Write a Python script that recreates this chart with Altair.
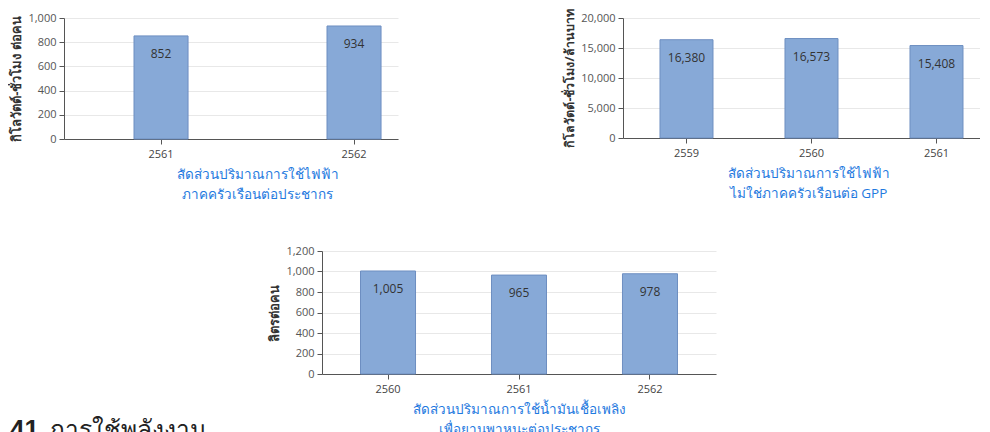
import altair as alt
import pandas as pd

# ---- data ----
years_elec_home = ["2561", "2562"]
values_elec_home = [852, 934]
years_elec_gpp = ["2559", "2560", "2561"]
values_elec_gpp = [16380, 16573, 15408]
years_fuel = ["2560", "2561", "2562"]
values_fuel = [1005, 965, 978]

ytitle_elec_home = "กิโลวัตต์-ชั่วโมง ต่อคน"
ytitle_elec_gpp = "กิโลวัตต์-ชั่วโมง/ล้านบาท"
ytitle_fuel = "ลิตรต่อคน"
xtitle_elec_home = ["สัดส่วนปริมาณการใช้ไฟฟ้า", "ภาคครัวเรือนต่อประชากร"]
xtitle_elec_gpp = ["สัดส่วนปริมาณการใช้ไฟฟ้า", "ไม่ใช่ภาคครัวเรือนต่อ GPP"]
xtitle_fuel = ["สัดส่วนปริมาณการใช้น้ำมันเชื้อเพลิง", "เพื่อยานพาหนะต่อประชากร"]
ticks_elec_home = [0, 200, 400, 600, 800, 1000]
ticks_elec_gpp = [0, 5000, 10000, 15000, 20000]
ticks_fuel = [0, 200, 400, 600, 800, 1000, 1200]
heading_num = ["41"]
heading_text = ["การใช้พลังงาน"]

FONT = "Open Sans"
BAR = "#87a9d7"
BAR_STROKE = "#6d8ec1"
AXIS = "#555555"
BLUE = "#1f7ae0"


def panel(years, values, ytitle, xtitle, ticks, w, h, pi, po, align,
          title_x=None, ytitle_size=13):
    df = pd.DataFrame({"year": years, "value": values})
    xaxis = dict(labelAngle=0, labelFont=FONT, labelFontSize=11, labelColor="#444444",
                 domainColor=AXIS, tickColor=AXIS, title=xtitle, titleFont=FONT,
                 titleFontSize=13.5, titleFontWeight="normal", titleColor=BLUE,
                 titleLineHeight=20, titlePadding=8, labelPadding=4)
    if title_x is not None:
        xaxis["titleX"] = title_x
        xaxis["titleAlign"] = "center"
    x = alt.X("year:N", sort=years,
              scale=alt.Scale(paddingInner=pi, paddingOuter=po, align=align),
              axis=alt.Axis(**xaxis))
    y = alt.Y("value:Q", scale=alt.Scale(domain=[ticks[0], ticks[-1]], nice=False),
              axis=alt.Axis(values=ticks, format=",.0f", labelFont=FONT, labelFontSize=11,
                            labelColor="#555555", domainColor=AXIS, tickColor=AXIS,
                            gridColor="#e8e8e8", title=ytitle, titleFont=FONT,
                            titleFontSize=ytitle_size, titleFontWeight="bold",
                            titleColor="#333333", titlePadding=4, labelPadding=3))
    base = alt.Chart(df).encode(x=x, y=y)
    bars = base.mark_bar(color=BAR, stroke=BAR_STROKE, strokeWidth=1)
    labels = base.mark_text(dy=18, font=FONT, fontSize=12, color="#333333").encode(
        text=alt.Text("value:Q", format=",.0f"))
    return (bars + labels).properties(width=w, height=h)


c1 = panel(years_elec_home, values_elec_home, ytitle_elec_home, xtitle_elec_home,
           ticks_elec_home, 334, 121, 0.72, 0.2253, 0.805, title_x=193)
c2 = panel(years_elec_gpp, values_elec_gpp, ytitle_elec_gpp, xtitle_elec_gpp,
           ticks_elec_gpp, 357, 120, 0.576, 0.216, 0.685, title_x=185, ytitle_size=12.5)
c3 = panel(years_fuel, values_fuel, ytitle_fuel, xtitle_fuel,
           ticks_fuel, 394, 123, 0.58, 0.294, 0.5)

h1 = alt.Chart(pd.DataFrame({"t": heading_num})).mark_text(
    align="left", baseline="alphabetic", font="Liberation Sans", fontSize=26,
    fontWeight="bold", color="#222222").encode(
    text="t:N", x=alt.value(-54), y=alt.value(187))
h2 = alt.Chart(pd.DataFrame({"t": heading_text})).mark_text(
    align="left", baseline="alphabetic", font="Liberation Sans", fontSize=24.5,
    color="#222222").encode(
    text="t:N", x=alt.value(-14), y=alt.value(187))
heading = alt.layer(h1, h2).properties(width=150, height=123)

top = alt.hconcat(c1, c2, spacing=165)
bottom = alt.hconcat(heading, c3, spacing=54)
chart = alt.vconcat(top, bottom, spacing=44).properties(
    padding={"left": 2, "top": 0, "right": 0, "bottom": 0}
).configure_view(stroke=None)

chart.save("out.html", embed_options={"renderer": "svg", "actions": False})
